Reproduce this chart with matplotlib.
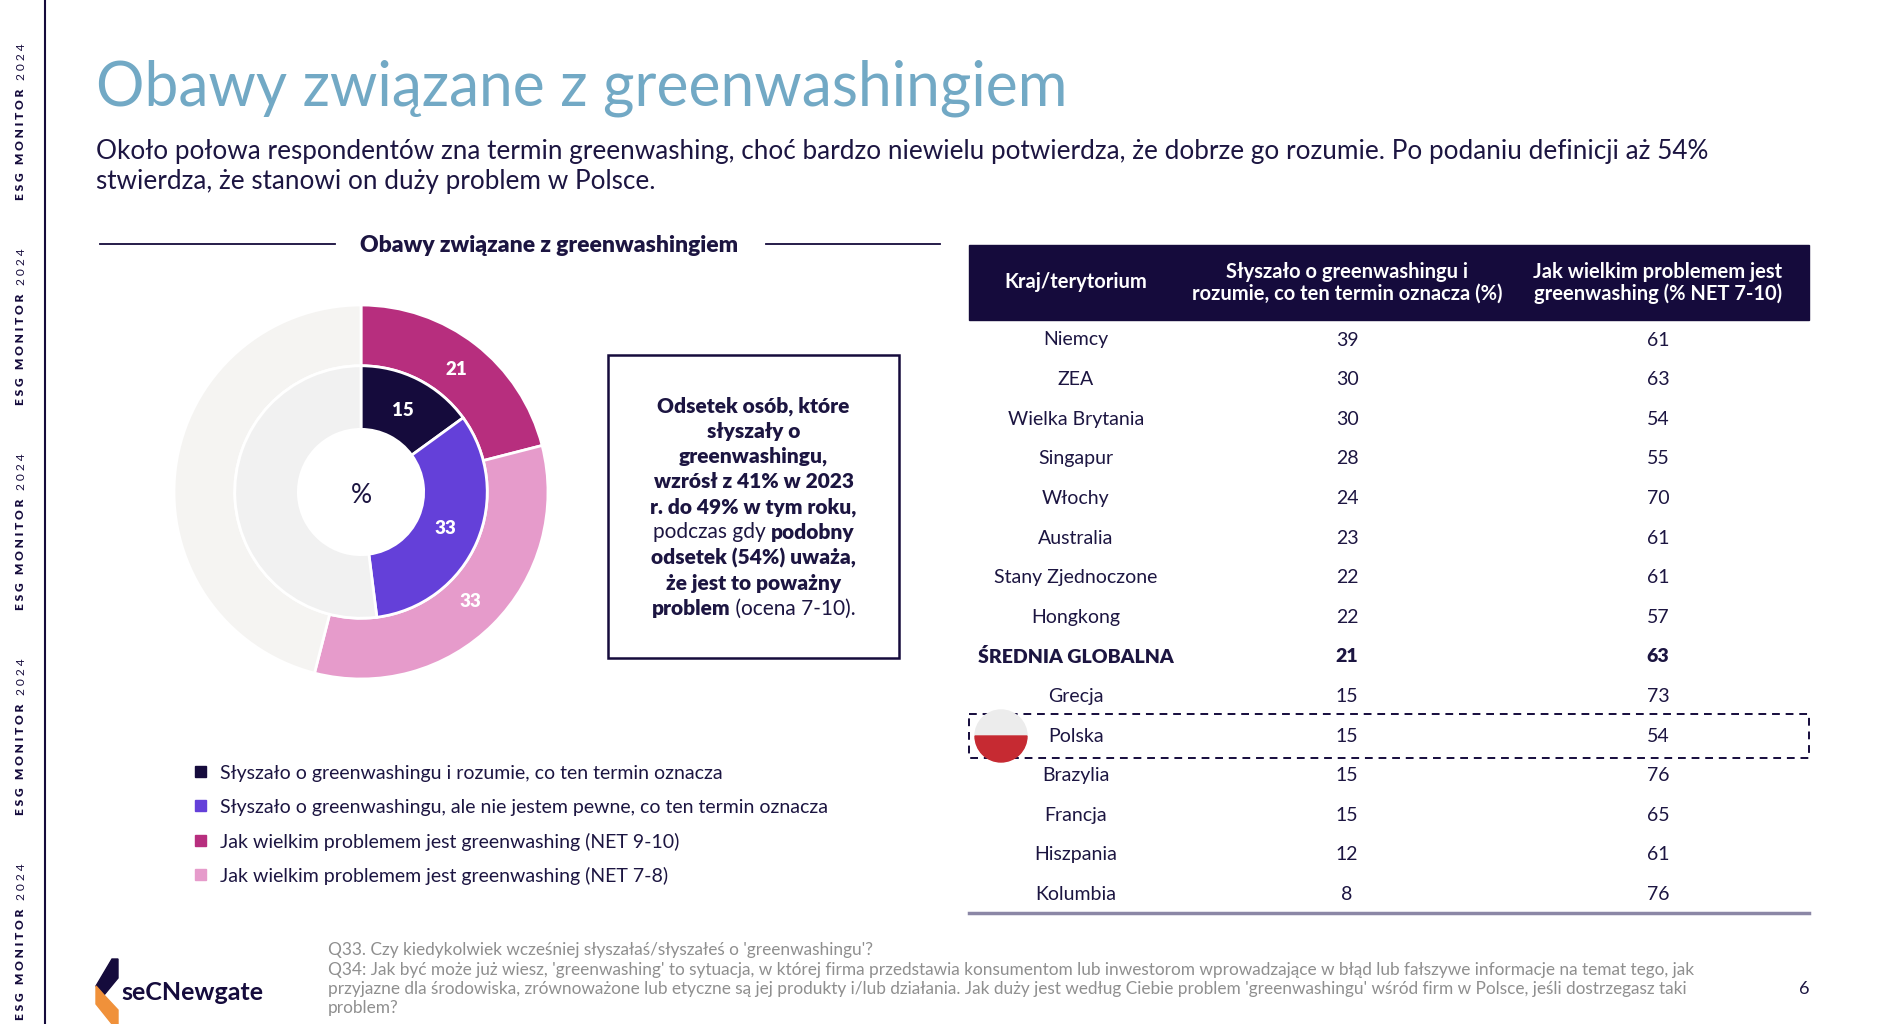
import matplotlib

matplotlib.use("Agg")
import matplotlib.pyplot as plt
import numpy as np
from matplotlib.patches import Rectangle, Wedge, Polygon

plt.rcParams["font.family"] = ["Lato", "DejaVu Sans"]

NAVY = "#150b3c"
TEXT = "#1c1541"
BLUE = "#72a9c5"
GREY_TXT = "#8f8f8f"

# donut data (%)
outer_labels = ["Jak wielkim problemem jest greenwashing (NET 9-10)",
                "Jak wielkim problemem jest greenwashing (NET 7-8)"]
outer_values = [21, 33]
outer_colors = ["#b72e7e", "#e69bcb"]
inner_labels = ["Słyszało o greenwashingu i rozumie, co ten termin oznacza",
                "Słyszało o greenwashingu, ale nie jestem pewne, co ten termin oznacza"]
inner_values = [15, 33]
inner_colors = [NAVY, "#6440d9"]

# table data
countries = ["Niemcy", "ZEA", "Wielka Brytania", "Singapur", "Włochy", "Australia",
             "Stany Zjednoczone", "Hongkong", "ŚREDNIA GLOBALNA", "Grecja", "Polska",
             "Brazylia", "Francja", "Hiszpania", "Kolumbia"]
heard = [39, 30, 30, 28, 24, 23, 22, 22, 21, 15, 15, 15, 15, 12, 8]
problem = [61, 63, 54, 55, 70, 61, 61, 57, 63, 73, 54, 76, 65, 61, 76]
col_headers = [["Kraj/terytorium"],
               ["Słyszało o greenwashingu i", "rozumie, co ten termin oznacza (%)"],
               ["Jak wielkim problemem jest", "greenwashing (% NET 7-10)"]]

title = "Obawy związane z greenwashingiem"
subtitle = ["Około połowa respondentów zna termin greenwashing, choć bardzo niewielu potwierdza, że dobrze go rozumie. Po podaniu definicji aż 54%",
            "stwierdza, że stanowi on duży problem w Polsce."]
box_lines = [
    [("Odsetek osób, które", "heavy")],
    [("słyszały o", "heavy")],
    [("greenwashingu,", "heavy")],
    [("wzrósł z 41% w 2023", "heavy")],
    [("r. do 49% w tym roku,", "heavy")],
    [("podczas gdy ", "normal"), ("podobny", "heavy")],
    [("odsetek (54%) uważa,", "heavy")],
    [("że jest to poważny", "heavy")],
    [("problem", "heavy"), (" (ocena 7-10).", "normal")],
]
footer = [
    "Q33. Czy kiedykolwiek wcześniej słyszałaś/słyszałeś o 'greenwashingu'?",
    "Q34: Jak być może już wiesz, 'greenwashing' to sytuacja, w której firma przedstawia konsumentom lub inwestorom wprowadzające w błąd lub fałszywe informacje na temat tego, jak",
    "przyjazne dla środowiska, zrównoważone lub etyczne są jej produkty i/lub działania. Jak duży jest według Ciebie problem 'greenwashingu' wśród firm w Polsce, jeśli dostrzegasz taki",
    "problem?",
]

W, H = 1892, 1024
fig = plt.figure(figsize=(W / 100, H / 100), dpi=100)
fig.patch.set_facecolor("white")
ax = fig.add_axes([0, 0, 1, 1])
ax.set_xlim(0, W)
ax.set_ylim(H, 0)
ax.axis("off")
renderer = fig.canvas.get_renderer()


def text_width(t):
    return t.get_window_extent(renderer).width


def mixed_line(xc, y, parts, size, color):
    items = []
    for s, w in parts:
        t = ax.text(0, y, s, fontsize=size, fontweight=w, color=color, va="center", ha="left")
        items.append(t)
    widths = [text_width(t) for t in items]
    x = xc - sum(widths) / 2
    for t, w in zip(items, widths):
        t.set_x(x)
        x += w


# left rail
ax.plot([45, 45], [0, H], color=NAVY, lw=1.5)
for yb in [200, 405, 610, 815, 1020]:
    t1 = ax.text(21, yb, "E S G   M O N I T O R", rotation=90, fontsize=8.6, fontweight="heavy",
                 color=NAVY, ha="center", va="bottom")
    h1 = t1.get_window_extent(renderer).height
    ax.text(21, yb - h1 - 9, "2 0 2 4", rotation=90, fontsize=8.6, color=NAVY,
            ha="center", va="bottom")

# heading
ax.text(96, 88, title, fontsize=43.6, color=BLUE, fontweight="normal", va="center")
for i, line in enumerate(subtitle):
    ax.text(96, 152 + i * 30, line, fontsize=18.8, color=TEXT, va="center")

# chart title with rules
ax.text(549, 246, title, fontsize=16.5, fontweight="heavy", color=TEXT, ha="center", va="center")
ax.plot([100, 335], [244, 244], color=NAVY, lw=1.3)
ax.plot([766, 940], [244, 244], color=NAVY, lw=1.3)

# donut
cx, cy, R = 361, 492, 187
pad = 1.05
dax = fig.add_axes([(cx - R * pad) / W, 1 - (cy + R * pad) / H, 2 * R * pad / W, 2 * R * pad / H])
r_mid = 0.675
r_hole = 0.335
dax.pie(outer_values + [100 - sum(outer_values)], radius=1.0,
        colors=outer_colors + ["#f5f4f2"], startangle=90, counterclock=False,
        wedgeprops=dict(width=1.0 - r_mid, edgecolor="white", linewidth=2))
dax.pie(inner_values + [100 - sum(inner_values)], radius=r_mid,
        colors=inner_colors + ["#f1f1f1"], startangle=90, counterclock=False,
        wedgeprops=dict(width=r_mid - r_hole, edgecolor="white", linewidth=2))

for vals, rr in [(outer_values, 0.83), (inner_values, 0.49)]:
    start = 0
    for v in vals:
        mid = np.deg2rad(90 - (start + v / 2) * 3.6)
        dax.text(rr * np.cos(mid), rr * np.sin(mid), str(v), color="white", fontsize=13.5,
                 fontweight="heavy", ha="center", va="center")
        start += v
dax.text(0, -0.02, "%", fontsize=19, color=TEXT, ha="center", va="center")
dax.set_xlim(-pad, pad)
dax.set_ylim(-pad, pad)
dax.set_aspect("equal")
dax.axis("off")

# legend
leg_labels = inner_labels + outer_labels
leg_colors = inner_colors + outer_colors
for i, (lab, col) in enumerate(zip(leg_labels, leg_colors)):
    y = 773 + i * 34.3
    ax.add_patch(Rectangle((195, y - 7), 11, 11, color=col))
    ax.text(220, y, lab, fontsize=14, color=TEXT, va="center")

# callout box
ax.add_patch(Rectangle((608, 355), 291, 303, fill=False, edgecolor=NAVY, lw=1.8))
for i, parts in enumerate(box_lines):
    mixed_line(753.5, 406 + i * 25.3, parts, 15, TEXT)

# table
tx0, tx1 = 969, 1809
col_x = [1076, 1347, 1658]
ax.add_patch(Rectangle((tx0, 245), tx1 - tx0, 75, color=NAVY))
for xc, lines in zip(col_x, col_headers):
    n = len(lines)
    for j, s in enumerate(lines):
        y = 282.5 + (j - (n - 1) / 2) * 21.5
        ax.text(xc, y, s, fontsize=14.5, fontweight="bold", color="white", ha="center", va="center")

row_y0, row_dy = 340, 39.6
for i, (c, a, b) in enumerate(zip(countries, heard, problem)):
    y = row_y0 + i * row_dy
    w = "heavy" if c == "ŚREDNIA GLOBALNA" else "normal"
    for xc, s in zip(col_x, [c, str(a), str(b)]):
        ax.text(xc, y, s, fontsize=14, fontweight=w, color=TEXT, ha="center", va="center")
    if c == "Polska":
        ax.add_patch(Rectangle((tx0, y - 22), tx1 - tx0, 44, fill=False, edgecolor=NAVY,
                               lw=1.4, linestyle=(0, (4, 3))))
        ax.add_patch(Wedge((1001, y), 26, 180, 360, color="#ececec", zorder=4))
        ax.add_patch(Wedge((1001, y), 26, 0, 180, color="#c62a32", zorder=4))
ax.plot([tx0, tx1], [913, 913], color="#8b87a6", lw=2.5)

# footer
for i, line in enumerate(footer):
    ax.text(328, 950 + i * 19.5, line, fontsize=12.4, color=GREY_TXT, va="center")
ax.text(1804, 989, "6", fontsize=13, color=TEXT, ha="center", va="center")

# logo
ax.add_patch(Polygon([(112, 959), (118, 959), (118, 978), (104, 995), (96, 986)], color=NAVY))
ax.add_patch(Polygon([(96, 986), (104, 995), (118, 1010), (118, 1024), (112, 1024), (96, 1004)],
                     color="#f0913a"))
ax.text(121, 992, "seCNewgate", fontsize=18, fontweight="bold", color=NAVY, va="center")

fig.savefig("out.png", dpi=100)
